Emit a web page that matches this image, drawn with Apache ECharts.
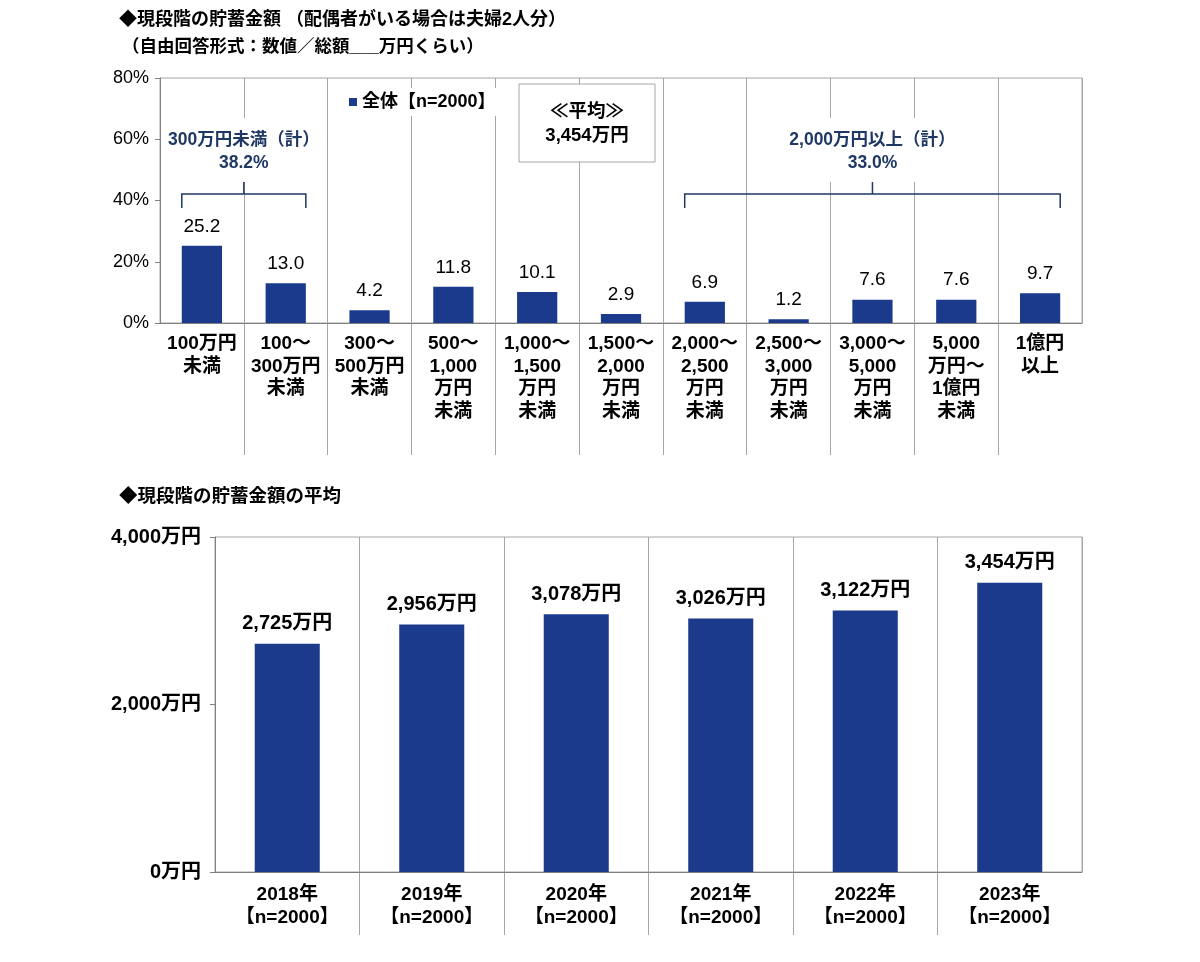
<!DOCTYPE html>
<html>
<head>
<meta charset="utf-8">
<script src="https://cdn.jsdelivr.net/npm/echarts@6/dist/echarts.min.js"></script>
<style>
  html, body { margin: 0; padding: 0; background: #fff; }
  #chart { width: 1200px; height: 962px; }
</style>
</head>
<body>
<div id="chart"></div>
<script>
// ── Data ───────────────────────────────────────────────────────────────
const savingBands = [
  "100万円\n未満", "100～\n300万円\n未満", "300～\n500万円\n未満",
  "500～\n1,000\n万円\n未満", "1,000～\n1,500\n万円\n未満", "1,500～\n2,000\n万円\n未満",
  "2,000～\n2,500\n万円\n未満", "2,500～\n3,000\n万円\n未満", "3,000～\n5,000\n万円\n未満",
  "5,000\n万円～\n1億円\n未満", "1億円\n以上",
];
const shareAll = [25.2, 13.0, 4.2, 11.8, 10.1, 2.9, 6.9, 1.2, 7.6, 7.6, 9.7];
const shareTicks = [0, 20, 40, 60, 80];

const surveyYears = ["2018年", "2019年", "2020年", "2021年", "2022年", "2023年"];
const avgSavings = [2725, 2956, 3078, 3026, 3122, 3454];
const avgTicks = [0, 2000, 4000];
const sampleSize = 2000;

// bracket groups over the top chart (indices into savingBands)
const bracketGroups = [
  { from: 0, to: 1, name: "300万円未満（計）" },
  { from: 6, to: 10, name: "2,000万円以上（計）" },
];

// ── Style ──────────────────────────────────────────────────────────────
const FONT = "'Liberation Sans', 'Noto Sans CJK JP', sans-serif";
const BAR = "#1B3A8C";
const NAVY = "#1F3864";
const LINE = "#A6A6A6";
const AXIS = "#808080";
const seriesName = `全体【n=${sampleSize}】`;
const yen = (v) => `${v.toLocaleString("en-US")}万円`;

const chart = echarts.init(document.getElementById("chart"));

const extendLines = {
  show: true, showMinLine: false, showMaxLine: false,
  lineStyle: { color: LINE, width: 1 },
};

chart.setOption({
  animation: false,
  textStyle: { fontFamily: FONT },
  legend: {
    data: [seriesName],
    left: 341, top: 88,
    icon: "rect", itemWidth: 8, itemHeight: 8, itemGap: 4,
    backgroundColor: "#fff",
    padding: [5, 8],
    textStyle: { fontSize: 18, fontWeight: "bold", color: "#000", fontFamily: FONT },
  },
  grid: [
    { left: 160, top: 78, width: 922, height: 245, show: true, borderColor: LINE, borderWidth: 1 },
    { left: 160, top: 323, width: 922, height: 132 },
    { left: 215, top: 537, width: 867, height: 335, show: true, borderColor: LINE, borderWidth: 1 },
    { left: 215, top: 872, width: 867, height: 63 },
  ],
  xAxis: [
    {
      type: "category", gridIndex: 0, data: savingBands,
      axisLine: { lineStyle: { color: AXIS } },
      axisTick: { length: 5, lineStyle: { color: AXIS } },
      splitLine: { show: true, lineStyle: { color: LINE } },
      axisLabel: {
        interval: 0, margin: 10, color: "#000", fontSize: 19, fontWeight: "bold",
        lineHeight: 22.5, fontFamily: FONT,
      },
    },
    {
      type: "category", gridIndex: 1, data: savingBands,
      axisLine: { show: false }, axisTick: { show: false }, axisLabel: { show: false },
      splitLine: extendLines,
    },
    {
      type: "category", gridIndex: 2,
      data: surveyYears.map((y) => `${y}\n【n=${sampleSize}】`),
      axisLine: { lineStyle: { color: AXIS } },
      axisTick: { length: 5, lineStyle: { color: AXIS } },
      splitLine: { show: true, lineStyle: { color: LINE } },
      axisLabel: {
        interval: 0, margin: 11, color: "#000", fontSize: 19, fontWeight: "bold",
        lineHeight: 23, fontFamily: FONT,
      },
    },
    {
      type: "category", gridIndex: 3, data: surveyYears,
      axisLine: { show: false }, axisTick: { show: false }, axisLabel: { show: false },
      splitLine: extendLines,
    },
  ],
  yAxis: [
    {
      type: "value", gridIndex: 0,
      min: shareTicks[0], max: shareTicks[shareTicks.length - 1], interval: shareTicks[1] - shareTicks[0],
      axisLine: { show: true, lineStyle: { color: AXIS } },
      axisTick: { show: true, length: 5, lineStyle: { color: AXIS } },
      splitLine: { show: false },
      axisLabel: { formatter: "{value}%", color: "#000", fontSize: 18, margin: 11, fontFamily: FONT },
    },
    { type: "value", gridIndex: 1, min: 0, max: 1, show: false },
    {
      type: "value", gridIndex: 2,
      min: avgTicks[0], max: avgTicks[avgTicks.length - 1], interval: avgTicks[1] - avgTicks[0],
      axisLine: { show: true, lineStyle: { color: AXIS } },
      axisTick: { show: true, length: 5, lineStyle: { color: AXIS } },
      splitLine: { show: false },
      axisLabel: {
        formatter: (v) => yen(v), color: "#000", fontSize: 20, fontWeight: "bold",
        margin: 14, fontFamily: FONT,
      },
    },
    { type: "value", gridIndex: 3, min: 0, max: 1, show: false },
  ],
  series: [
    {
      name: seriesName, type: "bar", xAxisIndex: 0, yAxisIndex: 0,
      data: shareAll, barWidth: "48%",
      itemStyle: { color: BAR },
      label: {
        show: true, position: "top", distance: 10, color: "#000", fontSize: 19,
        fontFamily: FONT, formatter: (p) => p.value.toFixed(1),
      },
    },
    {
      name: "平均", type: "bar", xAxisIndex: 2, yAxisIndex: 2,
      data: avgSavings, barWidth: "45%",
      itemStyle: { color: BAR },
      label: {
        show: true, position: "top", distance: 10, color: "#000", fontSize: 20,
        fontWeight: "bold", fontFamily: FONT, formatter: (p) => yen(p.value),
      },
    },
  ],
});

// ── Annotations (titles, average box, group brackets) ──────────────────
function text(x, y, str, opts = {}) {
  return {
    type: "text", x, y, z: 100, silent: true,
    style: {
      text: str, fill: opts.fill || "#000",
      fontSize: opts.size || 18, fontWeight: "bold", fontFamily: FONT,
      align: opts.align || "left", verticalAlign: opts.valign || "top",
      lineHeight: opts.lineHeight || 22,
    },
  };
}

const measureCtx = document.createElement("canvas").getContext("2d");
function textWidth(str, size) {
  measureCtx.font = `bold ${size}px ${FONT}`;
  return measureCtx.measureText(str).width;
}

const cx = (i) => chart.convertToPixel({ xAxisIndex: 0 }, i);
const halfBar = (cx(1) - cx(0)) * 0.48 / 2;
const plotLeft = cx(0) - (cx(1) - cx(0)) / 2;
const graphics = [
  text(119, 9, "◆現段階の貯蓄金額 （配偶者がいる場合は夫婦2人分）", { size: 18 }),
  text(122, 36, "（自由回答形式：数値／総額___万円くらい）", { size: 17.5 }),
  text(119, 486, "◆現段階の貯蓄金額の平均", { size: 18.5 }),
  {
    type: "rect", z: 100, silent: true,
    shape: { x: 519, y: 84, width: 136, height: 78 },
    style: { fill: "#fff", stroke: LINE, lineWidth: 1 },
  },
  text(587, 124, `≪平均≫\n${yen(avgSavings[avgSavings.length - 1])}`,
    { align: "center", valign: "middle", lineHeight: 24, size: 18.5 }),
];

const annSize = 17.5;
bracketGroups.forEach((g) => {
  const x0 = cx(g.from) - halfBar;
  const x1 = cx(g.to) + halfBar;
  const mid = (x0 + x1) / 2;
  let total = 0;
  for (let i = g.from; i <= g.to; i++) total += shareAll[i];
  const w = textWidth(g.name, annSize) + 8;
  const left = Math.max(mid - w / 2, plotLeft + 3);
  const yLine = 194;
  graphics.push(
    {
      type: "rect", z: 99, silent: true,
      shape: { x: left, y: 118, width: mid + w / 2 - left, height: 64 },
      style: { fill: "#fff" },
    },
    text(mid, 152, `${g.name}\n${total.toFixed(1)}%`,
      { align: "center", valign: "middle", fill: NAVY, size: annSize, lineHeight: 23 }),
    {
      type: "polyline", z: 100, silent: true,
      shape: { points: [[x0, yLine + 14], [x0, yLine], [x1, yLine], [x1, yLine + 14]] },
      style: { stroke: NAVY, lineWidth: 1.5, fill: null },
    },
    {
      type: "line", z: 100, silent: true,
      shape: { x1: mid, y1: yLine, x2: mid, y2: yLine - 12 },
      style: { stroke: NAVY, lineWidth: 1.5 },
    },
  );
});

chart.setOption({ graphic: graphics });
</script>
</body>
</html>
